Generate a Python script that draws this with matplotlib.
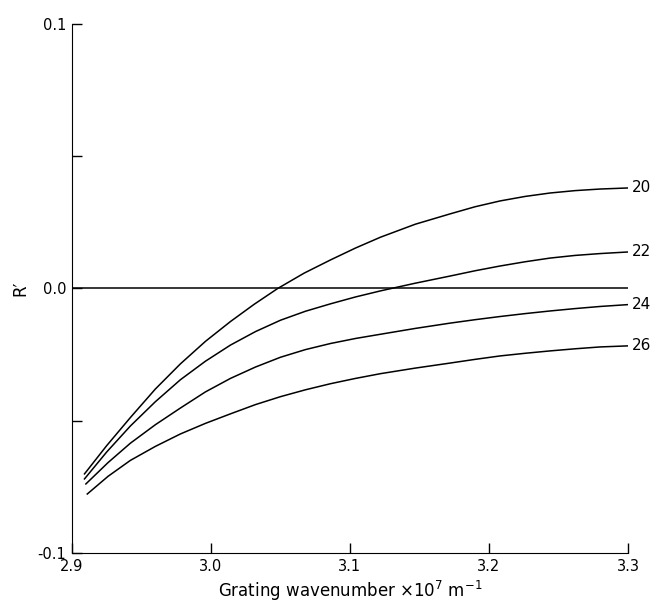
import numpy as np
import matplotlib
matplotlib.use('Agg')
import matplotlib.pyplot as plt

# Curves (x in units of 1e7 m^-1)
x20 = [2.909, 2.925, 2.942, 2.960, 2.978, 2.996, 3.014, 3.031, 3.048, 3.067, 3.086, 3.104, 3.122, 3.147, 3.172, 3.190, 3.208, 3.226, 3.244, 3.262, 3.280, 3.300]
r20 = [-0.0701, -0.0594, -0.0488, -0.0380, -0.0285, -0.0200, -0.0125, -0.0060, 0.0000, 0.0058, 0.0108, 0.0153, 0.0194, 0.0243, 0.0282, 0.0309, 0.0331, 0.0348, 0.0361, 0.0370, 0.0376, 0.0380]

x22 = [2.909, 2.925, 2.942, 2.960, 2.978, 2.996, 3.014, 3.032, 3.050, 3.068, 3.086, 3.104, 3.122, 3.147, 3.172, 3.190, 3.208, 3.226, 3.244, 3.262, 3.280, 3.300]
r22 = [-0.0720, -0.0618, -0.0520, -0.0428, -0.0345, -0.0275, -0.0214, -0.0163, -0.0120, -0.0086, -0.0058, -0.0032, -0.0009, 0.0020, 0.0047, 0.0067, 0.0085, 0.0101, 0.0115, 0.0125, 0.0132, 0.0138]

x24 = [2.910, 2.926, 2.942, 2.960, 2.978, 2.996, 3.014, 3.032, 3.050, 3.068, 3.086, 3.104, 3.122, 3.147, 3.172, 3.190, 3.208, 3.226, 3.244, 3.262, 3.280, 3.300]
r24 = [-0.0739, -0.0658, -0.0585, -0.0515, -0.0452, -0.0391, -0.0340, -0.0297, -0.0260, -0.0231, -0.0208, -0.0189, -0.0173, -0.0151, -0.0131, -0.0118, -0.0106, -0.0095, -0.0085, -0.0076, -0.0068, -0.0061]

x26 = [2.911, 2.926, 2.942, 2.960, 2.978, 2.996, 3.014, 3.032, 3.050, 3.068, 3.086, 3.104, 3.122, 3.147, 3.172, 3.190, 3.208, 3.226, 3.244, 3.262, 3.280, 3.300]
r26 = [-0.0777, -0.0710, -0.0650, -0.0597, -0.0550, -0.0510, -0.0474, -0.0439, -0.0409, -0.0383, -0.0360, -0.0340, -0.0322, -0.0301, -0.0282, -0.0268, -0.0255, -0.0245, -0.0236, -0.0228, -0.0221, -0.0217]

curve_labels = ['20', '22', '24', '26']

xticks = [2.9, 3.0, 3.1, 3.2, 3.3]
xtick_labels = ['2.9', '3.0', '3.1', '3.2', '3.3']
yticks = [-0.1, -0.05, 0.0, 0.05, 0.1]
ytick_labels = ['-0.1', '', '0.0', '', '0.1']

fig = plt.figure(figsize=(6.55, 6.07), dpi=100)
ax = fig.add_axes([0.1099, 0.0890, 0.8489, 0.8715])

curves = [(x20, r20), (x22, r22), (x24, r24), (x26, r26)]
for (xs, rs), lab in zip(curves, curve_labels):
    ax.plot(xs, rs, color='black', lw=1.1, solid_joinstyle='round')
    ax.text(xs[-1] + 0.003, rs[-1], lab, ha='left', va='center', fontsize=11)

# zero reference line
ax.plot([2.9, 3.3], [0, 0], color='black', lw=1.1)

ax.set_xlim(2.9, 3.3)
ax.set_ylim(-0.1, 0.1)
ax.set_xticks(xticks)
ax.set_xticklabels(xtick_labels)
ax.set_yticks(yticks)
ax.set_yticklabels(ytick_labels)
ax.tick_params(direction='in', length=7, width=1, labelsize=10.5, pad=4)

ax.spines['top'].set_visible(False)
ax.spines['right'].set_visible(False)

ax.set_xlabel('Grating wavenumber \u00d710$^7$ m$^{-1}$', fontsize=12, labelpad=4)
ax.set_ylabel('R\u2032', fontsize=12, labelpad=6)

fig.savefig('out.png', dpi=100)
